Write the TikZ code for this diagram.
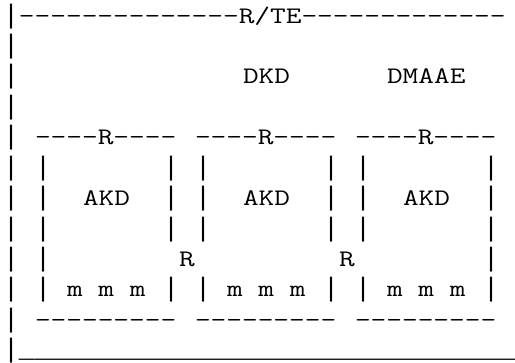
\documentclass[tikz,border=0pt]{standalone}
\usepackage{fontspec}
\setmonofont{lmmono12-regular.otf}[FakeStretch=1.285]
\newfontfamily\barfont{Liberation Mono}
\tikzset{edgebar/.style={font=\barfont\fontsize{26.67}{30.44}\selectfont}}
\begin{document}
\begin{tikzpicture}[x=16pt, y=-30.44pt,
    every node/.style={inner sep=0pt, outer sep=0pt, anchor=base west,
      font=\ttfamily\fontsize{23.72}{30.44}\selectfont}]
  \useasboundingbox (-0.1875,-0.7556) rectangle (32,11.137);
  % left border
  \foreach \r in {0,...,11}
    \node[edgebar] (edge\r) at (0,\r) {|};
  \node (title) at (1,0) {--------------R/TE-------------};
  \node (dkd) at (15,2) {DKD};
  \node (dmaae) at (24,2) {DMAAE};
  % the three AKD boxes
  \foreach \l/\n in {2/a,12/b,22/c} {
    \node (top\n) at (\l,4) {----R----};
    \foreach \r in {5,6,7,9} {
      \node[edgebar] (left\n\r) at (\l,\r) {|};
      \node[edgebar] (right\n\r) at (\l+8,\r) {|};
    }
    \node (akd\n) at (\l+3,6) {AKD};
    \node (mmm\n) at (\l+2,9) {m m m};
    \node (bottom\n) at (\l,10) {---------};
  }
  \node[edgebar] (lefta8) at (2,8) {|};
  \node[edgebar] (rightc8) at (30,8) {|};
  \node (rab) at (11,8) {R};
  \node (rbc) at (21,8) {R};
  \node[edgebar] (floor) at (1,11) {\foreach \k in {1,...,31}{\_}};
\end{tikzpicture}
\end{document}
